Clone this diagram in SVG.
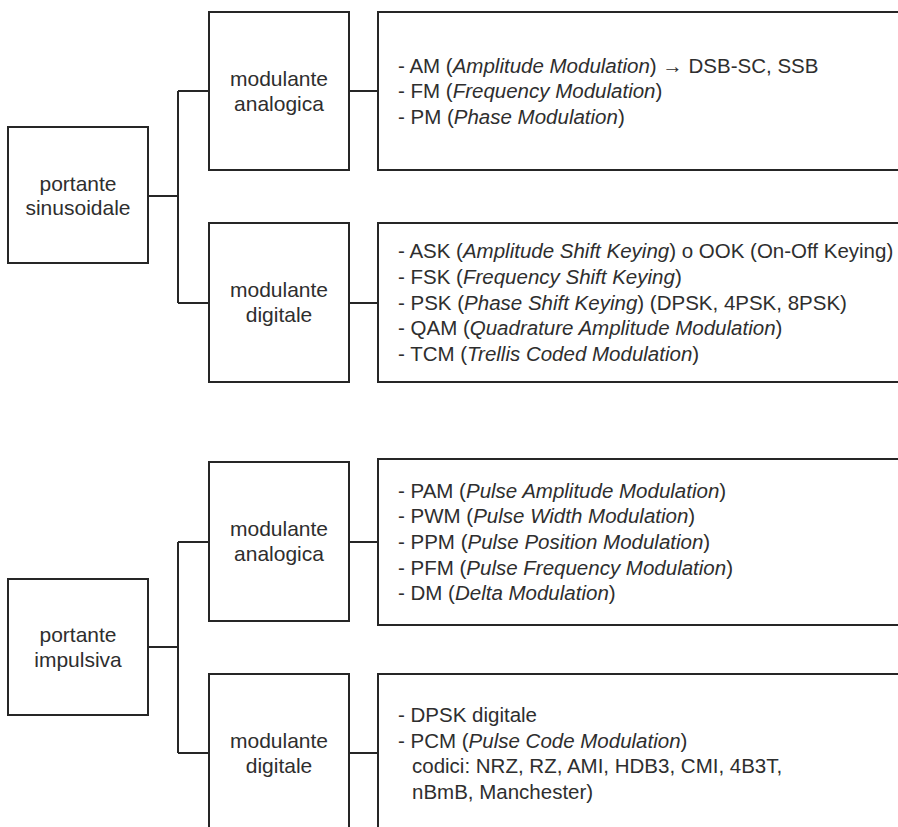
<svg xmlns="http://www.w3.org/2000/svg" width="898" height="827" viewBox="0 0 898 827">
<style>
.box{fill:#fff;stroke:#262626;stroke-width:2}
.ln{fill:none;stroke:#262626;stroke-width:2}
text{font-family:"Liberation Sans",Arial,sans-serif;font-size:20.5px;fill:#2e2e2e}
.c{text-anchor:middle;font-size:21px}
.i{font-style:italic}
</style>
<rect width="898" height="827" fill="#fff"/>
<g id="connectors">
<path class="ln" d="M148,196H178M178,91V303M178,91H209M178,303H209M349,91H378M349,303H378"/>
<path class="ln" d="M148,647H178M178,542V753M178,542H209M178,753H209M349,542H378M349,753H378"/>
</g>
<g id="n1"><rect class="box" x="8" y="127" width="140" height="136"/>
<text class="c" x="78" y="191">portante</text><text class="c" x="78" y="215">sinusoidale</text></g>
<g id="n2"><rect class="box" x="209" y="12" width="140" height="158"/>
<text class="c" x="279" y="86">modulante</text><text class="c" x="279" y="111">analogica</text></g>
<g id="n3"><rect class="box" x="209" y="223" width="140" height="159"/>
<text class="c" x="279" y="297">modulante</text><text class="c" x="279" y="322">digitale</text></g>
<g id="n4"><rect class="box" x="378" y="12" width="600" height="158"/>
<text x="398" y="73">- AM (<tspan class="i">Amplitude Modulation</tspan>) → DSB-SC, SSB</text>
<text x="398" y="98">- FM (<tspan class="i">Frequency Modulation</tspan>)</text>
<text x="398" y="124">- PM (<tspan class="i">Phase Modulation</tspan>)</text></g>
<g id="n5"><rect class="box" x="378" y="223" width="600" height="159"/>
<text x="398" y="258">- ASK (<tspan class="i">Amplitude Shift Keying</tspan>) o OOK (On-Off Keying)</text>
<text x="398" y="284">- FSK (<tspan class="i">Frequency Shift Keying</tspan>)</text>
<text x="398" y="310">- PSK (<tspan class="i">Phase Shift Keying</tspan>) (DPSK, 4PSK, 8PSK)</text>
<text x="398" y="335">- QAM (<tspan class="i">Quadrature Amplitude Modulation</tspan>)</text>
<text x="398" y="361">- TCM (<tspan class="i">Trellis Coded Modulation</tspan>)</text></g>
<g id="n6"><rect class="box" x="8" y="579" width="140" height="136"/>
<text class="c" x="78" y="642">portante</text><text class="c" x="78" y="667">impulsiva</text></g>
<g id="n7"><rect class="box" x="209" y="462" width="140" height="159"/>
<text class="c" x="279" y="536">modulante</text><text class="c" x="279" y="561">analogica</text></g>
<g id="n8"><rect class="box" x="209" y="674" width="140" height="200"/>
<text class="c" x="279" y="748">modulante</text><text class="c" x="279" y="773">digitale</text></g>
<g id="n9"><rect class="box" x="378" y="459" width="600" height="166"/>
<text x="398" y="498">- PAM (<tspan class="i">Pulse Amplitude Modulation</tspan>)</text>
<text x="398" y="523">- PWM (<tspan class="i">Pulse Width Modulation</tspan>)</text>
<text x="398" y="549">- PPM (<tspan class="i">Pulse Position Modulation</tspan>)</text>
<text x="398" y="575">- PFM (<tspan class="i">Pulse Frequency Modulation</tspan>)</text>
<text x="398" y="600">- DM (<tspan class="i">Delta Modulation</tspan>)</text></g>
<g id="n10"><rect class="box" x="378" y="674" width="600" height="200"/>
<text x="398" y="722">- DPSK digitale</text>
<text x="398" y="748">- PCM (<tspan class="i">Pulse Code Modulation</tspan>)</text>
<text x="412" y="773">codici: NRZ, RZ, AMI, HDB3, CMI, 4B3T,</text>
<text x="412" y="799">nBmB, Manchester)</text></g>
</svg>
